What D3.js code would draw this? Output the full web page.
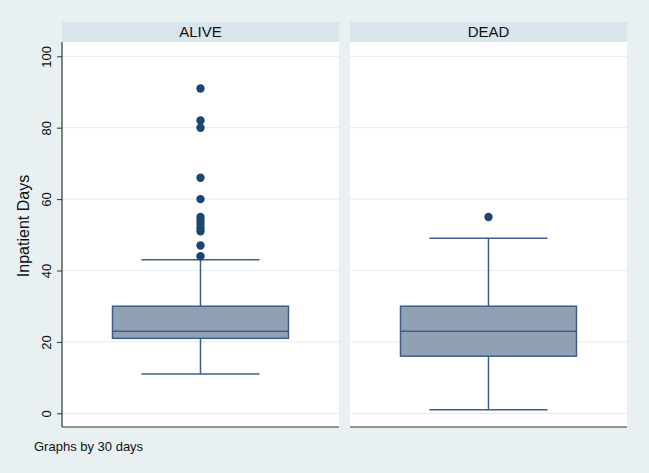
<!DOCTYPE html>
<html><head><meta charset="utf-8">
<script src="https://cdn.jsdelivr.net/npm/d3@7"></script>
<style>body{margin:0;background:#e8f0f2;}svg{display:block;font-family:"Liberation Sans",Arial,sans-serif;}</style>
</head><body>
<script>
const panels = ["ALIVE", "DEAD"];
const lowerWhisker = [11, 1];
const q1 = [21, 16];
const median = [23, 23];
const q3 = [30, 30];
const upperWhisker = [43, 49];
const outliers = [
  [44, 47, 51, 52, 53, 54, 55, 60, 66, 80, 82, 91],
  [55]
];
const yTicks = [0, 20, 40, 60, 80, 100];

(function () {
const W = 649, H = 473;
const svg = d3.select("body").append("svg").attr("width", W).attr("height", H);
svg.append("rect").attr("width", W).attr("height", H).attr("fill", "#e8f0f2");

const plotTop = 42, plotBottom = 427, stripTop = 22;
const panelX = [[62, 339], [350, 627]];
const y = d3.scaleLinear().domain([0, 100]).range([413.3, 56.3]);

const navy = "#1a476f", outline = "#3d5f8a", fill = "#90a1b6";

panels.forEach((name, i) => {
  const [x0, x1] = panelX[i];
  const g = svg.append("g");
  g.append("rect").attr("x", x0).attr("y", stripTop).attr("width", x1 - x0).attr("height", plotTop - stripTop).attr("fill", "#d9e5ea");
  g.append("text").attr("x", (x0 + x1) / 2).attr("y", 37).attr("text-anchor", "middle")
    .attr("font-size", 15).attr("fill", "#111").text(name);
  g.append("rect").attr("x", x0).attr("y", plotTop).attr("width", x1 - x0).attr("height", plotBottom - plotTop).attr("fill", "#fff");
  g.selectAll("line.grid").data(yTicks).join("line").attr("class", "grid")
    .attr("x1", x0).attr("x2", x1).attr("y1", d => y(d)).attr("y2", d => y(d))
    .attr("stroke", "#e6eff2").attr("stroke-width", 1.2);

  const x = d3.scaleBand().domain([name]).range([x0, x1]).paddingInner(0).paddingOuter(0.57);
  const cx = x(name) + x.bandwidth() / 2;
  const bw = 176, cw = 118;
  g.append("line").attr("x1", cx).attr("x2", cx).attr("y1", y(q3[i])).attr("y2", y(upperWhisker[i])).attr("stroke", outline).attr("stroke-width", 1.5);
  g.append("line").attr("x1", cx).attr("x2", cx).attr("y1", y(q1[i])).attr("y2", y(lowerWhisker[i])).attr("stroke", outline).attr("stroke-width", 1.5);
  [upperWhisker[i], lowerWhisker[i]].forEach(v => {
    g.append("line").attr("x1", cx - cw / 2).attr("x2", cx + cw / 2).attr("y1", y(v)).attr("y2", y(v)).attr("stroke", outline).attr("stroke-width", 1.5);
  });
  g.append("rect").attr("x", cx - bw / 2).attr("width", bw).attr("y", y(q3[i])).attr("height", y(q1[i]) - y(q3[i]))
    .attr("fill", fill).attr("stroke", outline).attr("stroke-width", 1.5);
  g.append("line").attr("x1", cx - bw / 2).attr("x2", cx + bw / 2).attr("y1", y(median[i])).attr("y2", y(median[i])).attr("stroke", outline).attr("stroke-width", 1.5);
  g.selectAll("circle").data(outliers[i]).join("circle").attr("cx", cx).attr("cy", d => y(d)).attr("r", 4.2).attr("fill", navy);
  g.append("line").attr("x1", x0).attr("x2", x1).attr("y1", plotBottom).attr("y2", plotBottom).attr("stroke", "#333").attr("stroke-width", 1.2);
});

const yAxis = d3.axisLeft(y).tickValues(yTicks).tickSize(5).tickPadding(4).tickFormat(d3.format("d"));
const ag = svg.append("g").attr("transform", `translate(${panelX[0][0]},0)`).call(yAxis);
ag.select(".domain").remove();
ag.append("line").attr("x1", 0).attr("x2", 0).attr("y1", plotTop).attr("y2", plotBottom).attr("stroke", "#333").attr("stroke-width", 1.2);
ag.selectAll(".tick line").attr("stroke", "#333");
ag.selectAll(".tick text").attr("font-size", 13).attr("fill", "#111")
  .attr("font-family", '"Liberation Sans",Arial,sans-serif')
  .attr("text-anchor", "middle").attr("dy", 0)
  .attr("transform", "translate(-11,0) rotate(-90)").attr("x", 0).attr("y", 0);

svg.append("text").attr("transform", "translate(29,226) rotate(-90)")
  .attr("text-anchor", "middle").attr("font-size", 16).attr("fill", "#111").text("Inpatient Days");

svg.append("text").attr("x", 34).attr("y", 451).attr("font-size", 13).attr("fill", "#111").text("Graphs by 30 days");
})();
</script>
</body></html>
